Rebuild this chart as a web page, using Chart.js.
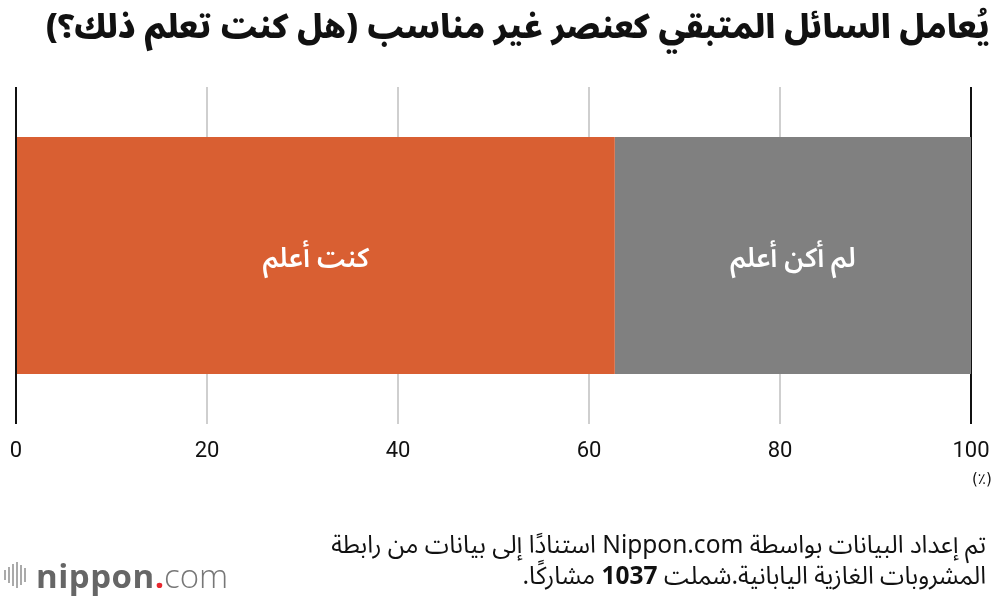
<!DOCTYPE html>
<html lang="ar">
<head>
<meta charset="utf-8">
<script src="https://cdn.jsdelivr.net/npm/chart.js@4.4.0/dist/chart.umd.min.js"></script>
<style>
  html,body{margin:0;padding:0;background:#fff;width:1000px;height:598px;overflow:hidden;}
  #wrap{position:relative;width:1000px;height:598px;}
  #c{position:absolute;left:0;top:0;}
  .ar{font-family:"Noto Sans Arabic","DejaVu Sans",sans-serif;direction:rtl;}
  #title{position:absolute;right:10px;top:-7px;font-size:32.8px;font-weight:900;color:#111;white-space:nowrap;}
  #unit{position:absolute;left:972px;top:470px;font-size:15px;color:#111;font-family:"DejaVu Sans",sans-serif;}
  #note{position:absolute;right:14px;top:530px;font-size:24.5px;line-height:31px;color:#111;text-align:right;white-space:nowrap;}
  #logo{position:absolute;left:4px;top:554px;height:42px;display:flex;align-items:center;font-family:"Open Sans","Noto Sans",sans-serif;}
  #logo .bars{display:flex;align-items:center;margin-right:8px;}
  #logo .bars span{display:inline-block;width:2px;background:#aaa;margin-right:2px;}
  #logo .n{font-size:33px;font-weight:bold;color:#666;letter-spacing:0.5px;}
  #logo .d{font-size:33px;font-weight:bold;color:#e8282f;}
  #logo .m{font-size:33px;font-weight:300;color:#777;}
</style>
</head>
<body>
<div id="wrap">
  <canvas id="c" width="1000" height="598"></canvas>
  <div id="title" class="ar">يُعامل السائل المتبقي كعنصر غير مناسب (هل كنت تعلم ذلك؟)</div>
  <div id="unit">(٪)</div>
  <div id="note" class="ar">تم إعداد البيانات بواسطة Nippon.com استنادًا إلى بيانات من رابطة<br>المشروبات الغازية اليابانية.شملت <b>1037</b> مشاركًا.</div>
  <div id="logo"><div class="bars"><span style="height:10px"></span><span style="height:16px"></span><span style="height:22px"></span><span style="height:26px"></span><span style="height:20px"></span><span style="height:14px"></span></div><span class="n">nippon</span><span class="d">.</span><span class="m">com</span></div>
</div>
<script>
const categories = ["الإجابة"];
const seriesNames = ["كنت أعلم", "لم أكن أعلم"];
const knewValues = [62.7];
const didNotKnowValues = [37.3];
const tickValues = [0, 20, 40, 60, 80, 100];
const seriesColors = ["#D95F32", "#808080"];

const barLabels = {
  id: 'barLabels',
  afterDatasetsDraw(chart) {
    const ctx = chart.ctx;
    ctx.save();
    ctx.fillStyle = '#fff';
    ctx.font = '600 27px "Noto Sans Arabic","DejaVu Sans",sans-serif';
    ctx.textAlign = 'center';
    ctx.textBaseline = 'middle';
    chart.data.datasets.forEach((ds, i) => {
      const meta = chart.getDatasetMeta(i);
      meta.data.forEach(el => {
        const x = (el.x + el.base) / 2;
        ctx.fillText(ds.label, x, el.y + 7);
      });
    });
    ctx.restore();
  }
};

new Chart(document.getElementById('c'), {
  type: 'bar',
  data: {
    labels: categories,
    datasets: [
      { label: seriesNames[0], data: knewValues, backgroundColor: seriesColors[0], borderWidth: 0 },
      { label: seriesNames[1], data: didNotKnowValues, backgroundColor: seriesColors[1], borderWidth: 0 }
    ]
  },
  options: {
    indexAxis: 'y',
    responsive: false,
    animation: false,
    devicePixelRatio: 1,
    layout: { padding: { left: 16, right: 29, top: 87, bottom: 119.6 } },
    datasets: { bar: { categoryPercentage: 1, barPercentage: 0.703 } },
    plugins: { legend: { display: false }, tooltip: { enabled: false } },
    scales: {
      x: {
        stacked: true,
        min: 0, max: 100,
        afterBuildTicks: (axis) => { axis.ticks = tickValues.map(v => ({ value: v })); },
        afterFit: (axis) => { axis.paddingLeft = 0; axis.paddingRight = 0; },
        border: { display: false },
        grid: {
          drawTicks: false,
          lineWidth: 2,
          color: (c) => (c.tick && (c.tick.value === 0 || c.tick.value === 100)) ? '#111' : '#cfcfcf'
        },
        ticks: {
          padding: 14,
          color: '#111',
          font: { family: 'Roboto, "Liberation Sans", sans-serif', size: 22 },
          maxRotation: 0
        }
      },
      y: { stacked: true, display: false }
    }
  },
  plugins: [barLabels]
});
</script>
</body>
</html>
